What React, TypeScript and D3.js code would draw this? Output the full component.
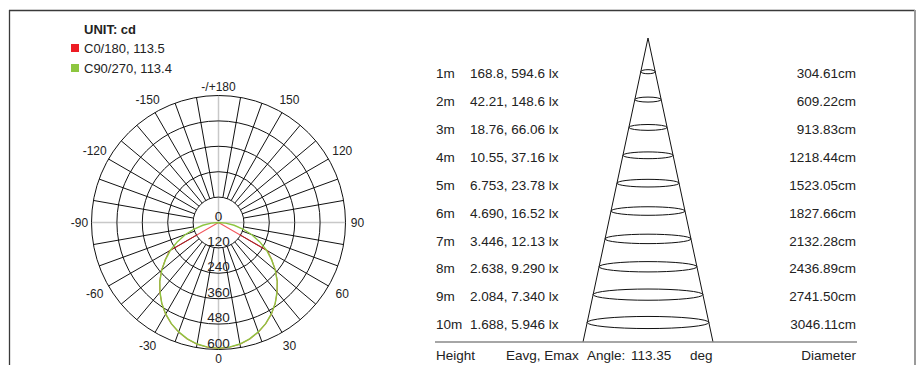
import React, { useEffect, useRef } from 'react';
import * as d3 from 'd3';

// legend
const unitLabel = 'UNIT: cd';
const seriesNames = ['C0/180, 113.5', 'C90/270, 113.4'];

// polar grid
const ringTicks = [0, 120, 240, 360, 480, 600];
const angleTicks = [180, 150, 120, 90, 60, 30, 0, -30, -60, -90, -120, -150];

// intensity curves (half profile, mirrored), gamma in degrees, cd
const gammaC0 = [0, 5, 10, 15, 20, 25, 30, 35, 40, 45, 50, 55, 60, 90];
const cdC0 = [594.6, 592, 584, 570, 551, 528, 500, 467, 431, 393, 351, 307, 268, 0];
const gammaC90 = [0, 5, 10, 15, 20, 25, 30, 35, 40, 45, 50, 55, 60, 65, 70, 75, 80, 85, 90];
const cdC90 = [594.6, 591, 583, 569, 550, 527, 499, 467, 430, 392, 350, 306, 262, 214, 166, 119, 75, 34, 0];

// illuminance table
const heights = [1, 2, 3, 4, 5, 6, 7, 8, 9, 10];
const eavg = ['168.8', '42.21', '18.76', '10.55', '6.753', '4.690', '3.446', '2.638', '2.084', '1.688'];
const emax = ['594.6', '148.6', '66.06', '37.16', '23.78', '16.52', '12.13', '9.290', '7.340', '5.946'];
const diameters = ['304.61', '609.22', '913.83', '1218.44', '1523.05', '1827.66', '2132.28', '2436.89', '2741.50', '3046.11'];
const beamAngle = '113.35';

const RED = '#ed1c24';
const GREEN = '#8dc63f';
const FONT = "'Liberation Sans', Arial, sans-serif";

export default function App() {
  const ref = useRef<SVGSVGElement>(null);

  useEffect(() => {
    if (!ref.current) return;
    const svg = d3.select(ref.current);
    svg.selectAll('*').remove();
    svg.style('font-family', FONT);

    // frame
    svg.append('line').attr('x1', 9).attr('y1', 10.5).attr('x2', 915).attr('y2', 10.5)
      .attr('stroke', '#3a3a3a').attr('stroke-width', 1.3);
    svg.append('line').attr('x1', 9.5).attr('y1', 10).attr('x2', 9.5).attr('y2', 365)
      .attr('stroke', '#3a3a3a').attr('stroke-width', 1.3);
    svg.append('line').attr('x1', 915).attr('y1', 10).attr('x2', 915).attr('y2', 365)
      .attr('stroke', '#9a9a9a').attr('stroke-width', 2);

    // legend
    svg.append('text').attr('x', 84).attr('y', 29).attr('dy', '0.35em')
      .style('font-size', '13px').style('font-weight', 'bold').attr('fill', '#222')
      .text(unitLabel);
    const legend = svg.append('g');
    seriesNames.forEach((name, i) => {
      const y = 48 + i * 20;
      legend.append('rect').attr('x', 71).attr('y', y - 4).attr('width', 8).attr('height', 8)
        .attr('fill', i === 0 ? RED : GREEN);
      legend.append('text').attr('x', 84).attr('y', y).attr('dy', '0.35em')
        .style('font-size', '13px').attr('fill', '#222').text(name);
    });

    // polar diagram
    const cx = 218.5;
    const cy = 222.5;
    const R = 127;
    const r = d3.scaleLinear().domain([0, 600]).range([0, R]);
    const rad = (g: number) => (g * Math.PI) / 180;
    const px = (g: number, rr: number) => cx + rr * Math.sin(rad(g));
    const py = (g: number, rr: number) => cy + rr * Math.cos(rad(g));

    const polar = svg.append('g');

    // spokes every 10 deg (not on the main axes)
    const spokes = d3.range(-170, 190, 10).filter(g => g % 90 !== 0);
    polar.selectAll('line.spoke').data(spokes).enter().append('line')
      .attr('x1', g => px(g, r(120))).attr('y1', g => py(g, r(120)))
      .attr('x2', g => px(g, R)).attr('y2', g => py(g, R))
      .attr('stroke', '#111').attr('stroke-width', 1);

    // main axes (grey)
    [0, 90].forEach(g => {
      polar.append('line')
        .attr('x1', px(g, R)).attr('y1', py(g, R))
        .attr('x2', px(g + 180, R)).attr('y2', py(g + 180, R))
        .attr('stroke', '#c8c8c8').attr('stroke-width', 1.5);
    });

    // rings
    polar.selectAll('circle.ring').data(ringTicks.slice(1)).enter().append('circle')
      .attr('cx', cx).attr('cy', cy).attr('r', d => r(d))
      .attr('fill', 'none').attr('stroke', '#111').attr('stroke-width', 1);

    // curves
    const mirror = (gs: number[], vs: number[]): [number, number][] => [
      ...gs.map((g, i) => [-g, vs[i]] as [number, number]).reverse(),
      ...gs.slice(1).map((g, i) => [g, vs[i + 1]] as [number, number]),
    ];
    const line = d3.lineRadial<[number, number]>()
      .angle(d => Math.PI - rad(d[0]))
      .radius(d => r(d[1]));
    const curves = polar.append('g').attr('transform', `translate(${cx},${cy})`);
    curves.append('path').attr('d', line(mirror(gammaC0, cdC0)) as string)
      .attr('fill', 'none').attr('stroke', RED).attr('stroke-width', 1.1).attr('stroke-opacity', 0.75);
    curves.append('path').attr('d', line(mirror(gammaC90, cdC90)) as string)
      .attr('fill', 'none').attr('stroke', GREEN).attr('stroke-width', 1.4);

    // ring labels
    polar.selectAll('text.ringlab').data(ringTicks).enter().append('text')
      .attr('x', cx).attr('y', d => cy + r(d) - 2)
      .attr('text-anchor', 'middle')
      .style('font-size', '13.5px').attr('fill', '#222')
      .text(d => d);

    // angle labels
    const labR = (g: number) => 136 + 5 * Math.abs(Math.sin(rad(2 * g))) + 3 * Math.abs(Math.sin(rad(g)));
    polar.selectAll('text.anglab').data(angleTicks).enter().append('text')
      .attr('x', g => px(g, labR(g)))
      .attr('y', g => py(g, labR(g)))
      .attr('dy', '0.35em')
      .attr('text-anchor', 'middle')
      .style('font-size', '12px').attr('fill', '#222')
      .text(g => (g === 180 ? '-/+180' : String(g)));

    // cone panel
    const apexX = 648;
    const apexY = 38;
    const baseY = 342;
    const baseHalf = 65;
    const hY = d3.scaleLinear().domain([1, 10]).range([71.7, 322.5]);
    const halfW = (y: number) => (baseHalf * (y - apexY)) / (baseY - apexY);

    const cone = svg.append('g');
    cone.append('path')
      .attr('d', `M${apexX - baseHalf},${baseY}L${apexX},${apexY}L${apexX + baseHalf},${baseY}`)
      .attr('fill', 'none').attr('stroke', '#111').attr('stroke-width', 1);
    cone.selectAll('ellipse').data(heights).enter().append('ellipse')
      .attr('cx', apexX).attr('cy', h => hY(h))
      .attr('rx', h => halfW(hY(h)))
      .attr('ry', h => 1.5 + 0.075 * halfW(hY(h)))
      .attr('fill', 'none').attr('stroke', '#111').attr('stroke-width', 1);

    const rows = svg.append('g').style('font-size', '13.5px').attr('fill', '#222');
    heights.forEach((h, i) => {
      const y = hY(h) + 2;
      rows.append('text').attr('x', 436).attr('y', y).attr('dy', '0.35em').text(`${h}m`);
      rows.append('text').attr('x', 470).attr('y', y).attr('dy', '0.35em')
        .text(`${eavg[i]}, ${emax[i]} lx`);
      rows.append('text').attr('x', 856).attr('y', y).attr('dy', '0.35em')
        .attr('text-anchor', 'end').text(`${diameters[i]}cm`);
    });

    // baseline + footer
    svg.append('line').attr('x1', 435).attr('y1', baseY).attr('x2', 857).attr('y2', baseY)
      .attr('stroke', '#888').attr('stroke-width', 1.5);
    const foot = svg.append('g').style('font-size', '13.5px').attr('fill', '#222');
    const fy = 355;
    foot.append('text').attr('x', 436).attr('y', fy).attr('dy', '0.35em').text('Height');
    foot.append('text').attr('x', 506).attr('y', fy).attr('dy', '0.35em').text('Eavg, Emax');
    foot.append('text').attr('x', 587).attr('y', fy).attr('dy', '0.35em').text('Angle:');
    foot.append('text').attr('x', 631).attr('y', fy).attr('dy', '0.35em').text(beamAngle);
    foot.append('text').attr('x', 690).attr('y', fy).attr('dy', '0.35em').text('deg');
    foot.append('text').attr('x', 856).attr('y', fy).attr('dy', '0.35em')
      .attr('text-anchor', 'end').text('Diameter');
  }, []);

  return (
    <svg
      ref={ref}
      width={922}
      height={365}
      style={{ position: 'absolute', left: 0, top: 0, display: 'block', background: '#fff' }}
    />
  );
}
